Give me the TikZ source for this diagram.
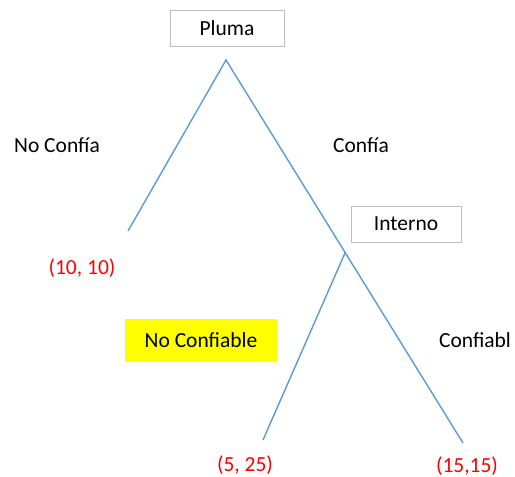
\documentclass[tikz,border=0pt]{standalone}
\usepackage{fontspec}
\setmainfont{Carlito}
\definecolor{branch}{RGB}{91,155,213}
\definecolor{boxgray}{RGB}{190,190,190}
\definecolor{pay}{RGB}{255,0,0}
\definecolor{hl}{RGB}{255,255,0}
\newcommand{\diafont}{\fontsize{21.5}{24}\selectfont}
\tikzset{
  lbl/.style={font=\diafont, inner sep=0pt},
  decbox/.style={draw=boxgray, line width=1pt, fill=white, minimum width=114pt, minimum height=36pt, inner sep=0pt, font=\diafont},
  payoff/.style={text=pay, font=\diafont, inner sep=0pt},
  branchline/.style={draw=branch, line width=1.4pt}
}
\begin{document}
\begin{tikzpicture}[x=1pt,y=-1pt]
\useasboundingbox (0,0) rectangle (515,477);
\node[decbox] (pluma) at (227,28) {Pluma};
\node[decbox, minimum width=110pt] (interno) at (406,224) {Interno};
\coordinate (a) at (226,60);
\coordinate (l1) at (128,231);
\coordinate (r1) at (463,443);
\coordinate (b) at (345,253);
\coordinate (l2) at (263,440);
\draw[branchline] (l1) -- (a) -- (r1);
\draw[branchline] (b) -- (l2);
\node[lbl] (nc) at (57,145) {No Confía};
\node[lbl] (cf) at (361,145) {Confía};
\node[payoff] (p1) at (82,268) {(10, 10)};
\node[fill=hl, minimum width=152pt, minimum height=43pt, inner sep=0pt, font=\diafont] (ncf) at (201,340) {No Confiable};
\node[lbl] (cfb) at (475,340) {Confiabl};
\node[payoff] (p2) at (245,465) {(5, 25)};
\node[payoff] (p3) at (467,466) {(15,15)};
\end{tikzpicture}
\end{document}
